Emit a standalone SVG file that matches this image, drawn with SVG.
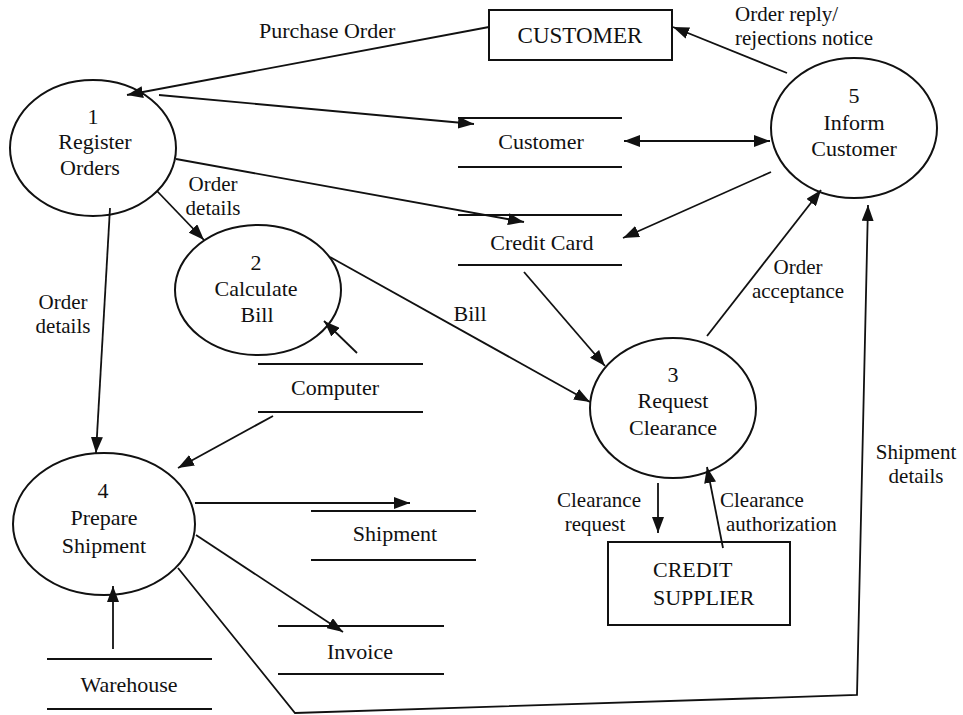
<svg xmlns="http://www.w3.org/2000/svg" width="963" height="715" viewBox="0 0 963 715">
<defs>
<style>
text{font-family:"Liberation Serif","Times New Roman",serif;font-size:22px;fill:#111;}
.c{text-anchor:middle;}
.lb{font-size:21px;}
.shape{fill:none;stroke:#111;stroke-width:2;}
.ln{fill:none;stroke:#111;stroke-width:1.8;}
.ar{fill:none;stroke:#111;stroke-width:1.8;marker-end:url(#ah);}
.ar2{fill:none;stroke:#111;stroke-width:1.8;marker-end:url(#ah);marker-start:url(#ah);}
</style>
<marker id="ah" viewBox="0 0 16 12" refX="16" refY="6" markerWidth="16" markerHeight="12" orient="auto-start-reverse" markerUnits="userSpaceOnUse"><path d="M0,0 L16,6 L0,12 z" fill="#111"/></marker>
</defs>
<rect width="963" height="715" fill="#fff"/>

<g id="p1"><ellipse class="shape" cx="93" cy="148" rx="83" ry="68"/>
<text class="c" x="93" y="124">1</text><text class="c" x="95" y="149">Register</text><text class="c" x="90" y="175">Orders</text></g>

<g id="p2"><ellipse class="shape" cx="258" cy="290" rx="83" ry="65"/>
<text class="c" x="256" y="270">2</text><text class="c" x="256" y="296">Calculate</text><text class="c" x="257" y="322">Bill</text></g>

<g id="p3"><ellipse class="shape" cx="673" cy="408" rx="83" ry="70"/>
<text class="c" x="673" y="382">3</text><text class="c" x="673" y="408">Request</text><text class="c" x="673" y="435">Clearance</text></g>

<g id="p4"><ellipse class="shape" cx="104" cy="524" rx="91" ry="71"/>
<text class="c" x="103" y="498">4</text><text class="c" x="104" y="525">Prepare</text><text class="c" x="104" y="553">Shipment</text></g>

<g id="p5"><ellipse class="shape" cx="854" cy="128" rx="83" ry="70"/>
<text class="c" x="854" y="103">5</text><text class="c" x="854" y="130">Inform</text><text class="c" x="854" y="156">Customer</text></g>

<g id="customer"><rect class="shape" x="489" y="10" width="183" height="50"/>
<text class="c" x="580" y="43" style="font-size:23px">CUSTOMER</text></g>

<g id="creditSupplier"><rect class="shape" x="608" y="542" width="182" height="83"/>
<text x="653" y="577">CREDIT</text><text x="653" y="605">SUPPLIER</text></g>

<g id="dsCustomer"><path class="ln" d="M458,118 H622 M458,167 H622"/><text class="c" x="541" y="149">Customer</text></g>
<g id="dsCreditCard"><path class="ln" d="M458,215 H622 M458,265 H622"/><text class="c" x="542" y="250">Credit Card</text></g>
<g id="dsComputer"><path class="ln" d="M258,364 H423 M258,412 H423"/><text class="c" x="335" y="395">Computer</text></g>
<g id="dsShipment"><path class="ln" d="M311,511 H476 M311,560 H476"/><text class="c" x="395" y="541">Shipment</text></g>
<g id="dsInvoice"><path class="ln" d="M278,626 H444 M278,674 H444"/><text class="c" x="360" y="659">Invoice</text></g>
<g id="dsWarehouse"><path class="ln" d="M47,659 H212 M47,709 H212"/><text class="c" x="129" y="692">Warehouse</text></g>

<g id="connectors">
<path class="ar" d="M489,27 L127,95"/>
<path class="ar" d="M159,95 L474,124"/>
<path class="ar" d="M176,159 L524,222"/>
<path class="ar" d="M157,191 L204,240"/>
<path class="ar" d="M110,208 L96,453"/>
<path class="ar" d="M357,353 L324,321"/>
<path class="ar" d="M273,416 L178,468"/>
<path class="ar" d="M330,257 L590,402"/>
<path class="ar" d="M524,272 L605,366"/>
<path class="ar2" d="M624,141 L770,141"/>
<path class="ar" d="M771,172 L623,238"/>
<path class="ar" d="M787,73 L673,27"/>
<path class="ar" d="M707,336 L821,190"/>
<path class="ar" d="M178,568 L295,713 L857,695 L868,205"/>
<path class="ar" d="M195,503 L410,503"/>
<path class="ar" d="M196,535 L343,632"/>
<path class="ar" d="M113,649 L113,586"/>
<path class="ar" d="M658,483 L658,533"/>
<path class="ar" d="M723,548 L707,467"/>
</g>

<g id="labels">
<text x="259" y="38">Purchase Order</text>
<text class="lb" x="735" y="21">Order reply/</text>
<text class="lb" x="735" y="45">rejections notice</text>
<text class="lb c" x="213" y="191">Order</text>
<text class="lb c" x="213" y="215">details</text>
<text class="lb c" x="63" y="309">Order</text>
<text class="lb c" x="63" y="333">details</text>
<text class="c" x="470" y="321">Bill</text>
<text class="lb c" x="798" y="274">Order</text>
<text class="lb c" x="798" y="298">acceptance</text>
<text class="lb c" x="916" y="459">Shipment</text>
<text class="lb c" x="916" y="483">details</text>
<text class="lb c" x="599" y="507">Clearance</text>
<text class="lb c" x="595" y="531">request</text>
<text class="lb" x="720" y="507">Clearance</text>
<text class="lb" x="726" y="531">authorization</text>
</g>
</svg>
